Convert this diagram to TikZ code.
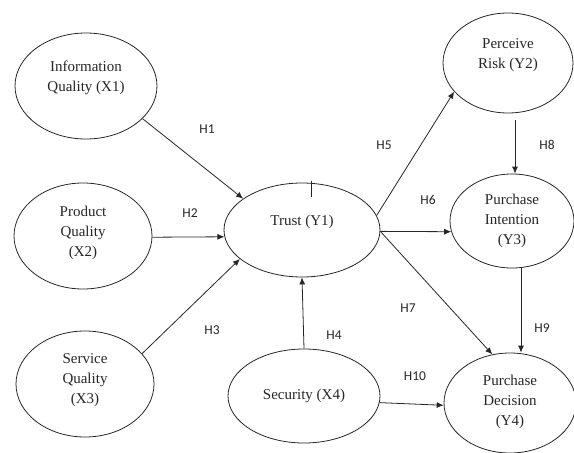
\documentclass[tikz,border=0pt]{standalone}
\usepackage{fontspec}
\setmainfont{Liberation Serif}
\newfontfamily\hfont{Carlito}
\usetikzlibrary{shapes.geometric,arrows.meta}
\begin{document}
\begin{tikzpicture}[x=1pt,y=-1pt,
  ell/.style={draw=black!85,line width=0.8pt,ellipse,inner sep=0pt},
  txt/.style={font=\fontsize{15}{20}\selectfont,align=center,text=black!85},
  hl/.style={font=\hfont\fontsize{13.5}{16}\selectfont,text=black!85},
  arr/.style={draw=black!85,line width=0.8pt,-{Latex[length=7pt,width=6pt]}}]
\useasboundingbox (0,0) rectangle (574,453);
% ellipses
\node[ell,minimum width=142pt,minimum height=106pt,label={[txt,yshift=8pt]center:{Information\\Quality (X1)}}] (x1) at (86,86) {};
\node[ell,minimum width=138pt,minimum height=106pt,label={[txt,yshift=3pt]center:{Product\\Quality\\(X2)}}] (x2) at (83,236) {};
\node[ell,minimum width=138pt,minimum height=106pt,label={[txt,yshift=4pt]center:{Service\\Quality\\(X3)}}] (x3) at (85,384) {};
\node[ell,minimum width=156pt,minimum height=94pt,label={[txt,yshift=8pt]center:{Trust (Y1)}}] (y1) at (302,230) {};
\node[ell,minimum width=152pt,minimum height=94pt,label={[txt]center:{Security (X4)}}] (x4) at (304,396) {};
\node[ell,minimum width=130pt,minimum height=100pt,label={[txt,yshift=8pt]center:{Perceive\\Risk (Y2)}}] (y2) at (508,63) {};
\node[ell,minimum width=124pt,minimum height=94pt,label={[txt]center:{Purchase\\Intention\\(Y3)}}] (y3) at (512,221) {};
\node[ell,minimum width=132pt,minimum height=100pt,label={[txt,yshift=1pt]center:{Purchase\\Decision\\(Y4)}}] (y4) at (510,403) {};
% tick on trust
\draw[draw=black!85,line width=0.8pt] ([xshift=9pt,yshift=2pt]y1.north) -- ++(0,16);
% arrows
\draw[arr] (x1.-30.7) -- (y1.152);
\draw[arr] (x2.-1) -- (y1.185);
\draw[arr] (x3.28) -- (y1.205.5);
\draw[arr] (x4.north) -- (y1.south);
\draw[arr] (y1.11.7) -- (y2.208.5);
\draw[arr] (y1.-1.5) -- (y3.190);
\draw[arr] (y1.-1.5) -- (y4.110.8);
\coordinate (h8s) at ([xshift=7pt,yshift=-7pt]y2.south);
\draw[arr] (h8s) -- (h8s |- y3.north);
\coordinate (h9s) at ([xshift=9pt]y3.south);
\draw[arr] (h9s) -- (h9s |- y4.north);
\draw[arr] (x4.-5) -- (y4.182.5);
% labels
\node[hl] (l1) at (207,129) {H1};
\node[hl] (l2) at (190,213) {H2};
\node[hl] (l3) at (212,330) {H3};
\node[hl] (l4) at (334,335) {H4};
\node[hl] (l5) at (384,145) {H5};
\node[hl] (l6) at (428,200) {H6};
\node[hl] (l7) at (408,308) {H7};
\node[hl] (l8) at (547,145) {H8};
\node[hl] (l9) at (542,328) {H9};
\node[hl] (l10) at (415,376) {H10};
\end{tikzpicture}
\end{document}
